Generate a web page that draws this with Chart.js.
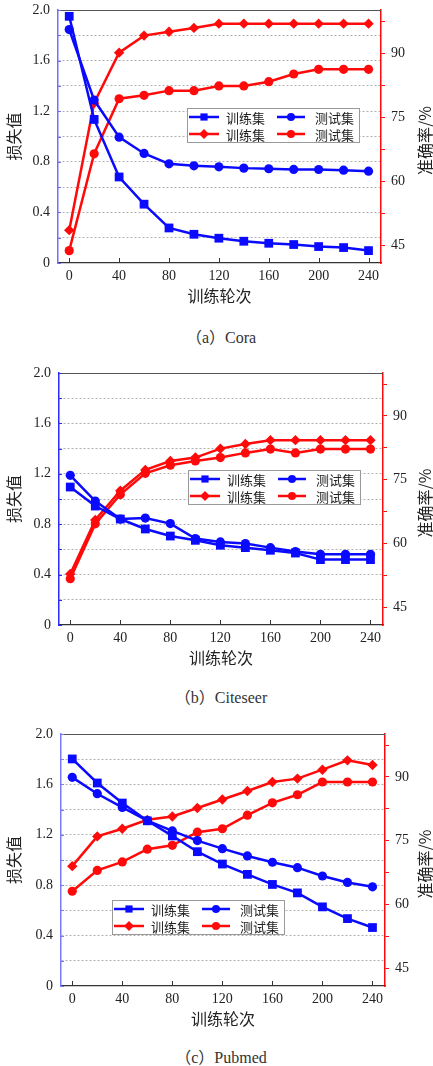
<!DOCTYPE html>
<html lang="zh">
<head>
<meta charset="UTF-8">
<title>损失值与准确率</title>
<script src="https://cdn.jsdelivr.net/npm/chart.js"></script>
<style>
  body { margin: 0; background: #fff; }
  .wrap { position: relative; width: 433px; height: 1066px; overflow: hidden; }
  canvas { position: absolute; left: 0; }
  .cap { position: absolute; left: 0; width: 442px; text-align: center; font: 16px "Liberation Serif", "Noto Sans CJK SC", serif; color: #333; }
</style>
</head>
<body>
<div class="wrap">
  <canvas id="cora" width="433" height="310" style="top:0px"></canvas>
  <div class="cap" style="top:324px">（a）Cora</div>
  <canvas id="citeseer" width="433" height="310" style="top:362px"></canvas>
  <div class="cap" style="top:684px">（b）Citeseer</div>
  <canvas id="pubmed" width="433" height="309" style="top:724px"></canvas>
  <div class="cap" style="top:1044px">（c）Pubmed</div>
</div>

<script>
// 数据
const epochs = [0, 20, 40, 60, 80, 100, 120, 140, 160, 180, 200, 220, 240];
const xTicks = [0, 40, 80, 120, 160, 200, 240];
const lossTicks = [0, 0.2, 0.4, 0.6, 0.8, 1.0, 1.2, 1.4, 1.6, 1.8, 2.0];
const accTicks = [45, 52.5, 60, 67.5, 75, 82.5, 90, 97.5];
const accLabels = [45, 60, 75, 90];
const seriesNames = ['训练集', '测试集', '训练集', '测试集'];

const coraLossTrain = [1.95, 1.135, 0.68, 0.465, 0.277, 0.227, 0.196, 0.172, 0.156, 0.146, 0.13, 0.122, 0.098];
const coraLossTest  = [1.845, 1.288, 0.995, 0.866, 0.784, 0.768, 0.76, 0.75, 0.745, 0.74, 0.739, 0.734, 0.726];
const coraAccTrain  = [48.5, 78.3, 90.1, 94.1, 95.0, 95.9, 96.9, 96.9, 96.9, 96.9, 96.9, 96.9, 96.9];
const coraAccTest   = [43.7, 66.4, 79.3, 80.1, 81.2, 81.2, 82.3, 82.3, 83.3, 85.1, 86.2, 86.2, 86.2];

const citeLossTrain = [1.095, 0.944, 0.841, 0.762, 0.706, 0.672, 0.633, 0.614, 0.593, 0.571, 0.519, 0.519, 0.519];
const citeLossTest  = [1.188, 0.984, 0.841, 0.849, 0.805, 0.686, 0.659, 0.646, 0.614, 0.583, 0.561, 0.561, 0.561];
const citeAccTrain  = [52.8, 65.5, 72.4, 77.3, 79.4, 80.2, 82.3, 83.4, 84.3, 84.3, 84.3, 84.3, 84.3];
const citeAccTest   = [51.7, 64.6, 71.5, 76.5, 78.4, 79.4, 80.2, 81.3, 82.2, 81.3, 82.2, 82.2, 82.2];

const pubLossTrain = [1.802, 1.611, 1.452, 1.311, 1.191, 1.066, 0.968, 0.886, 0.806, 0.739, 0.628, 0.535, 0.464];
const pubLossTest  = [1.656, 1.526, 1.417, 1.313, 1.231, 1.154, 1.09, 1.032, 0.982, 0.939, 0.873, 0.822, 0.787];
const pubAccTrain  = [69.0, 76.0, 77.8, 79.9, 80.7, 82.7, 84.7, 86.7, 88.8, 89.6, 91.7, 93.9, 92.8];
const pubAccTest   = [63.1, 68.0, 70.0, 73.0, 73.9, 77.0, 77.8, 81.0, 83.9, 85.8, 88.8, 88.8, 88.8];

const BLUE = '#0a0aff';
const RED = '#ff0a0a';
const TXT = '#222';
const SERIF = "'Liberation Serif', 'Times New Roman', serif";
const CJK = "'Noto Sans CJK SC', sans-serif";

function pts(vals) {
  return epochs.map((e, i) => ({ x: e, y: vals[i] }));
}

function mark(ctx, style, x, y, r) {
  ctx.beginPath();
  if (style === 'rect') {
    ctx.rect(x - r, y - r, 2 * r, 2 * r);
  } else if (style === 'rectRot') {
    ctx.moveTo(x, y - r * 1.25); ctx.lineTo(x + r * 1.25, y);
    ctx.lineTo(x, y + r * 1.25); ctx.lineTo(x - r * 1.25, y);
    ctx.closePath();
  } else {
    ctx.arc(x, y, r, 0, Math.PI * 2);
  }
  ctx.fill();
}

// 去掉刻度标签带来的额外边距，绘图区位置由 layout.padding 决定
function noPad(s) {
  s.paddingTop = 0; s.paddingBottom = 0; s.paddingLeft = 0; s.paddingRight = 0;
}

// 边框、内刻度、右侧标题、图例
const decor = {
  id: 'decor',
  afterDraw(chart, args, o) {
    const { ctx, chartArea: a, scales } = chart;
    ctx.save();
    // 顶边
    ctx.strokeStyle = '#555';
    ctx.lineWidth = 1.2;
    ctx.beginPath(); ctx.moveTo(a.left, a.top + 0.5); ctx.lineTo(a.right, a.top + 0.5); ctx.stroke();
    // x 内刻度
    ctx.strokeStyle = '#333';
    ctx.lineWidth = 1;
    xTicks.forEach(v => {
      const px = Math.round(scales.x.getPixelForValue(v)) + 0.5;
      ctx.beginPath(); ctx.moveTo(px, a.bottom); ctx.lineTo(px, a.bottom - 5); ctx.stroke();
    });
    // 左轴内刻度
    ctx.strokeStyle = o.leftColor;
    lossTicks.forEach(v => {
      const py = Math.round(scales.y.getPixelForValue(v)) + 0.5;
      ctx.beginPath(); ctx.moveTo(a.left, py); ctx.lineTo(a.left + 3, py); ctx.stroke();
    });
    // 右侧标题
    ctx.fillStyle = TXT;
    ctx.font = '16px ' + CJK;
    ctx.textAlign = 'center';
    ctx.textBaseline = 'middle';
    ctx.translate(425, (a.top + a.bottom) / 2 + 4);
    ctx.rotate(-Math.PI / 2);
    ctx.fillText('准确率/%', 0, 0);
    ctx.restore();

    // 图例
    const L = o.legend;
    ctx.save();
    ctx.fillStyle = '#fff';
    ctx.fillRect(L.x, L.y, 172, 34);
    ctx.strokeStyle = '#999';
    ctx.lineWidth = 1;
    ctx.strokeRect(L.x + 0.5, L.y + 0.5, 172, 34);
    chart.data.datasets.forEach((ds, i) => {
      const col = i % 2, row = Math.floor(i / 2);
      const lx = L.x + (col ? 90 : 2), lw = col ? 28 : 30;
      const ly = L.y + (row ? 26 : 9);
      ctx.strokeStyle = ds.borderColor;
      ctx.fillStyle = ds.borderColor;
      ctx.lineWidth = 2.5;
      ctx.beginPath(); ctx.moveTo(lx, ly); ctx.lineTo(lx + lw, ly); ctx.stroke();
      mark(ctx, ds.pointStyle, lx + lw / 2, ly, ds.pointStyle === 'rect' ? 3.6 : 4);
      ctx.fillStyle = TXT;
      ctx.font = '13px ' + CJK;
      ctx.textAlign = 'left';
      ctx.textBaseline = 'middle';
      ctx.fillText(ds.label, L.x + (col ? 128 : 39), ly + 1);
    });
    ctx.restore();
  }
};

function makeChart(id, lossTrain, lossTest, accTrain, accTest, box) {
  const line = (label, vals, color, style, r, axis) => ({
    label: label,
    data: pts(vals),
    yAxisID: axis,
    borderColor: color,
    backgroundColor: color,
    pointBackgroundColor: color,
    pointBorderWidth: 0,
    borderWidth: 2.5,
    pointStyle: style,
    pointRadius: r,
    tension: 0
  });
  return new Chart(document.getElementById(id), {
    type: 'line',
    data: {
      datasets: [
        line(seriesNames[0], lossTrain, BLUE, 'rect', 6.2, 'y'),
        line(seriesNames[1], lossTest, BLUE, 'circle', 4.6, 'y'),
        line(seriesNames[2], accTrain, RED, 'rectRot', 5.2, 'y1'),
        line(seriesNames[3], accTest, RED, 'circle', 4.6, 'y1')
      ]
    },
    options: {
      responsive: false,
      animation: false,
      devicePixelRatio: 1,
      layout: { padding: { top: box.padTop, left: 0, right: 0, bottom: 0 } },
      plugins: {
        legend: { display: false },
        tooltip: { enabled: false },
        decor: { legend: box.legend, leftColor: box.leftColor }
      },
      scales: {
        x: {
          type: 'linear',
          min: -9,
          max: 250,
          afterBuildTicks: s => { s.ticks = xTicks.map(v => ({ value: v })); },
          afterFit: s => { s.height = 47; noPad(s); },
          ticks: { color: TXT, font: { family: SERIF, size: 14 }, padding: 5, maxRotation: 0 },
          grid: { drawOnChartArea: false, drawTicks: false },
          border: { color: '#333', width: 1.3 },
          title: { display: true, text: '训练轮次', color: TXT, font: { family: CJK, size: 16 } }
        },
        y: {
          position: 'left',
          min: 0,
          max: 2,
          afterBuildTicks: s => { s.ticks = lossTicks.map(v => ({ value: v })); },
          afterFit: s => { s.width = box.left; noPad(s); },
          ticks: {
            color: TXT,
            font: { family: SERIF, size: 14 },
            padding: 8,
            callback: v => {
              const k = Math.round(v * 10);
              if (k % 4 !== 0) return '';
              return k === 0 ? '0' : (k / 10).toFixed(1);
            }
          },
          grid: {
            drawTicks: false,
            lineWidth: 1,
            color: c => (c.tick && (c.tick.value === 0 || c.tick.value === 2)) ? 'rgba(0,0,0,0)' : '#b0b0b0'
          },
          border: { color: box.leftColor, width: 1.5, dash: [2, 2] },
          title: { display: true, text: '损失值', color: TXT, font: { family: CJK, size: 16 } }
        },
        y1: {
          position: 'right',
          min: 40.8,
          max: 100.1,
          afterBuildTicks: s => { s.ticks = accTicks.map(v => ({ value: v })); },
          afterFit: s => { s.width = 433 - box.right; noPad(s); },
          ticks: {
            color: TXT,
            font: { family: SERIF, size: 14 },
            padding: 6,
            callback: v => accLabels.includes(v) ? String(v) : ''
          },
          grid: { drawOnChartArea: false, drawTicks: true, tickLength: 4, tickColor: RED, color: RED },
          border: { color: RED, width: 1.5 }
        }
      }
    },
    plugins: [decor]
  });
}

makeChart('cora', coraLossTrain, coraLossTest, coraAccTrain, coraAccTest,
  { padTop: 10, left: 58, right: 381, leftColor: '#7070ff', legend: { x: 187, y: 108 } });
makeChart('citeseer', citeLossTrain, citeLossTest, citeAccTrain, citeAccTest,
  { padTop: 11, left: 59, right: 383, leftColor: '#2a2aff', legend: { x: 188, y: 108 } });
makeChart('pubmed', pubLossTrain, pubLossTest, pubAccTrain, pubAccTest,
  { padTop: 10, left: 61, right: 385, leftColor: '#7a7aff', legend: { x: 112, y: 176 } });
</script>
</body>
</html>
